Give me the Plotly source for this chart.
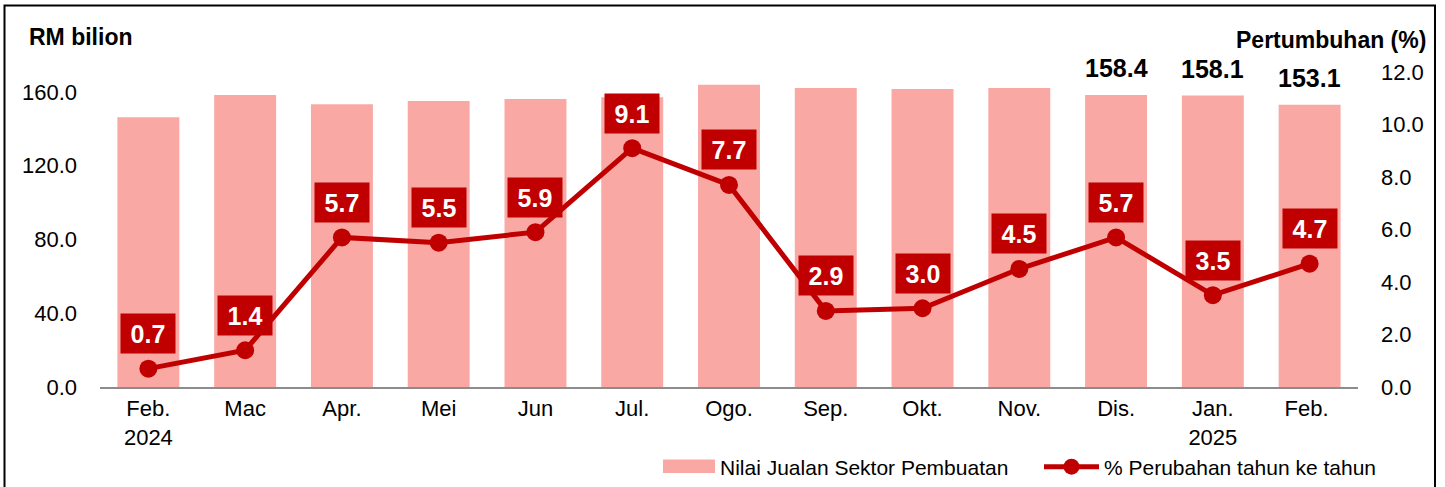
import plotly.graph_objects as go

categories = ["Feb.<br>2024", "Mac", "Apr.", "Mei", "Jun", "Jul.", "Ogo.", "Sep.",
              "Okt.", "Nov.", "Dis.", "Jan.<br>2025", "Feb. "]
sales_values = [146.3, 158.4, 153.3, 155.1, 156.2, 157.1, 164.0, 162.2, 161.6, 162.2, 158.4, 158.1, 153.1]
growth_values = [0.7, 1.4, 5.7, 5.5, 5.9, 9.1, 7.7, 2.9, 3.0, 4.5, 5.7, 3.5, 4.7]
highlight_idx = [10, 11, 12]
left_ticks = [0, 40, 80, 120, 160]
right_ticks = [0, 2, 4, 6, 8, 10, 12]

BAR_COLOR = "#F9A8A4"
LINE_COLOR = "#C00000"
FONT = "Liberation Sans, Arial, sans-serif"

W, H = 1445, 487
L, R, T, B = 100, 87, 72, 100
pw, ph = W - L - R, H - T - B

def px_x(p):
    return (p - L) / pw

def px_y(p):
    return (H - B - p) / ph

fig = go.Figure()
fig.add_trace(go.Bar(
    x=categories, y=sales_values, name="Nilai Jualan Sektor Pembuatan",
    marker=dict(color=BAR_COLOR, line=dict(width=0)), yaxis="y",
))
fig.add_trace(go.Scatter(
    x=categories, y=growth_values, name="% Perubahan tahun ke tahun",
    mode="lines+markers", yaxis="y2",
    line=dict(color=LINE_COLOR, width=5),
    marker=dict(color=LINE_COLOR, size=18),
))

annotations = []
for c, v in zip(categories, growth_values):
    annotations.append(dict(
        x=c, y=v, xref="x", yref="y2", text=f"{v:.1f}", showarrow=False,
        font=dict(family=FONT, size=25, color="white", weight="bold"),
        bgcolor=LINE_COLOR, borderpad=7, width=40, height=25,
        yanchor="middle", yshift=35,
    ))
for i in highlight_idx:
    annotations.append(dict(
        x=categories[i], y=sales_values[i], xref="x", yref="y",
        text=f"{sales_values[i]:.1f}", showarrow=False,
        font=dict(family=FONT, size=25, color="black", weight="bold"),
        yanchor="middle", yshift=27,
    ))
annotations.append(dict(
    x=px_x(27), y=px_y(37), xref="paper", yref="paper", text="RM bilion",
    showarrow=False, xanchor="left", yanchor="middle",
    font=dict(family=FONT, size=23, color="black", weight="bold"),
))
annotations.append(dict(
    x=px_x(1428), y=px_y(40), xref="paper", yref="paper", text="Pertumbuhan (%)",
    showarrow=False, xanchor="right", yanchor="middle",
    font=dict(family=FONT, size=23, color="black", weight="bold"),
))

ymax_left = 160 * 315 / 295

fig.update_layout(
    width=W, height=H,
    margin=dict(l=L, r=R, t=T, b=B, autoexpand=False),
    paper_bgcolor="white", plot_bgcolor="white",
    font=dict(family=FONT, size=22, color="black"),
    bargap=0.36,
    showlegend=True,
    legend=dict(orientation="h", x=px_x(655), y=px_y(467), xanchor="left", yanchor="middle",
                font=dict(size=21), itemwidth=55, bgcolor="rgba(0,0,0,0)",
                traceorder="normal", entrywidth=314),
    xaxis=dict(type="category", range=[-0.5, len(categories) - 0.5], showgrid=False,
               showline=True, linecolor="#8C8C8C", linewidth=2,
               ticks="", tickfont=dict(size=22), ticklabelstandoff=1),
    yaxis=dict(range=[0, ymax_left], tickvals=left_ticks, tickformat=".1f", showgrid=False,
               zeroline=False, showline=False, ticks="", tickfont=dict(size=22),
               ticklabelstandoff=22),
    yaxis2=dict(range=[0, 12], tickvals=right_ticks, tickformat=".1f", overlaying="y", side="right",
                showgrid=False, zeroline=False, showline=False, ticks="", tickfont=dict(size=22),
                ticklabelstandoff=22),
    annotations=annotations,
    shapes=[
        dict(type="rect", xref="paper", yref="paper",
             x0=px_x(4.5), x1=px_x(1435), y0=px_y(5.5), y1=px_y(495),
             line=dict(color="black", width=2), fillcolor="rgba(0,0,0,0)", layer="above"),
        # widen the bar legend swatch to match the reference's wide rectangle
        dict(type="rect", xref="paper", yref="paper",
             x0=px_x(663), x1=px_x(715), y0=px_y(473), y1=px_y(459.5),
             line=dict(width=0), fillcolor=BAR_COLOR, layer="above"),
    ],
)

fig.write_html("out.html", config={"displayModeBar": False},
               post_script="document.body.style.margin='0';document.body.style.overflow='hidden';")
